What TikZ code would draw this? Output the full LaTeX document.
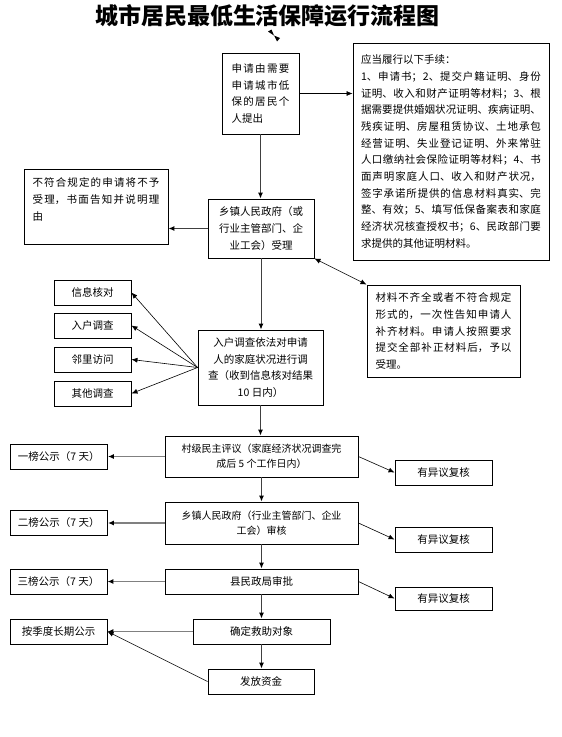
\documentclass[tikz,border=0pt]{standalone}
\usepackage{fontspec}
\setmainfont{Noto Sans CJK SC}
\usetikzlibrary{arrows.meta}
\XeTeXlinebreaklocale "zh"
\XeTeXlinebreakskip = 0pt plus 1.5pt
\setlength\parindent{0pt}
\tikzset{mytip/.tip={Latex[length=6pt,width=5pt,color=black]}}
\begin{document}
\begin{tikzpicture}[x=1pt,y=-1pt,
  every node/.style={font=\fontsize{10.5}{16.7}\selectfont},
  box/.style={draw,line width=0.9pt,inner sep=0pt,align=center},
  jbox/.style={box,align=justify},
  arr/.style={-{mytip},line width=1pt,draw=black!75},
  garr/.style={-{mytip},line width=1.5pt,draw=black!50},
  tarr/.style={-{mytip},line width=0.6pt,draw=black},
]
\useasboundingbox (0,0) rectangle (562,737);

\node[font=\fontsize{23}{23}\selectfont\bfseries] (title) at (271.5,16) {\makebox[353pt][s]{城市居民最低生活保障运行流程图}};
\fill (268,31.5) -- (271.5,29.5) -- (274,35.5) -- cycle;
\fill (274,35.5) -- (280,38) -- (277,41.5) -- cycle;

\node[jbox, minimum width=77, minimum height=81, text width=58] (b1) at (260.5,93.5)
 {申请由需要\linebreak 申请城市低\linebreak 保的居民个\linebreak 人提出};
\node[jbox, minimum width=196, minimum height=217, text width=180] (req) at (451,151.5)
 {应当履行以下手续：\newline
 1、申请书；2、提交户籍证明、身份\linebreak
 证明、收入和财产证明等材料；3、根\linebreak
 据需要提供婚姻状况证明、疾病证明、\linebreak
 残疾证明、房屋租赁协议、土地承包\linebreak
 经营证明、失业登记证明、外来常驻\linebreak
 人口缴纳社会保险证明等材料；4、书\linebreak
 面声明家庭人口、收入和财产状况，\linebreak
 签字承诺所提供的信息材料真实、完\linebreak
 整、有效；5、填写低保备案表和家庭\linebreak
 经济状况核查授权书；6、民政部门要\linebreak
 求提供的其他证明材料。};
\node[box, minimum width=106, minimum height=59] (b2) at (261,228.5)
 {乡镇人民政府（或\\行业主管部门、企\\业工会）受理};
\node[box, minimum width=144, minimum height=75] (rej) at (96,206.5)
 {\parbox[c][57pt][t]{127pt}{不符合规定的申请将不予\linebreak 受理，书面告知并说明理\linebreak 由}};
\node[jbox, minimum width=153, minimum height=92, text width=136] (mat) at (443.5,331)
 {材料不齐全或者不符合规定\linebreak 形式的，一次性告知申请人\linebreak 补齐材料。申请人按照要求\linebreak 提交全部补正材料后，予以\linebreak 受理。};
\node[box, minimum width=125, minimum height=75] (b4) at (260.5,367.5)
 {入户调查依法对申请\\人的家庭状况进行调\\查（收到信息核对结果\\10 日内）};
\node[box, minimum width=77, minimum height=25] (s1) at (92.5,292.5) {信息核对};
\node[box, minimum width=77, minimum height=25] (s2) at (92.5,325.5) {入户调查};
\node[box, minimum width=77, minimum height=25] (s3) at (92.5,359.5) {邻里访问};
\node[box, minimum width=77, minimum height=25] (s4) at (92.5,393.5) {其他调查};

\node[box, minimum width=193, minimum height=41, font=\fontsize{10}{15}\selectfont] (v1) at (261.5,456.5)
 {村级民主评议（家庭经济状况调查完\\成后 5 个工作日内）};
\node[box, minimum width=97.5, minimum height=25] (p1) at (58.75,456.5) {一榜公示（7 天）};
\node[box, minimum width=97, minimum height=25] (o1) at (443.5,472.5) {有异议复核};
\node[box, minimum width=193, minimum height=42, font=\fontsize{10}{15}\selectfont] (v2) at (261.5,523)
 {乡镇人民政府（行业主管部门、企业\\工会）审核};
\node[box, minimum width=97.5, minimum height=25] (p2) at (58.75,522.5) {二榜公示（7 天）};
\node[box, minimum width=97, minimum height=25] (o2) at (443.5,539.5) {有异议复核};
\node[box, minimum width=193, minimum height=25] (v3) at (261.5,581.5) {县民政局审批};
\node[box, minimum width=97, minimum height=25] (p3) at (58.5,581.5) {三榜公示（7 天）};
\node[box, minimum width=97, minimum height=23] (o3) at (443.5,598.5) {有异议复核};
\node[box, minimum width=137, minimum height=25] (v4) at (261.5,631.5) {确定救助对象};
\node[box, minimum width=97, minimum height=25] (p4) at (58.5,631.5) {按季度长期公示};
\node[box, minimum width=106, minimum height=25] (v5) at (261,681.5) {发放资金};

\draw[tarr] (b1.east) -- (b1.east -| req.west);
\draw[arr] (b1.south) -- (b1.south |- b2.north);
\draw[arr] (b2.west) -- (b2.west -| rej.east);
\draw[tarr,{mytip}-{mytip}] (mat.north west) -- (b2.south east);
\draw[arr] (b2.south) -- (b2.south |- b4.north);
\draw[tarr] (b4.west) -- (s1.east);
\draw[tarr] (b4.west) -- (s2.east);
\draw[tarr] (b4.west) -- (s3.east);
\draw[tarr] (b4.west) -- (s4.east);
\draw[arr] (b4.south) -- (b4.south |- v1.north);
\draw[garr] (v1.west) -- (v1.west -| p1.east);
\draw[tarr] (v1.east) -- (o1.west);
\draw[arr] (v1.south) -- (v1.south |- v2.north);
\draw[garr] (v2.west) -- (v2.west -| p2.east);
\draw[tarr] (v2.east) -- (o2.west);
\draw[arr] (v2.south) -- (v2.south |- v3.north);
\draw[garr] (v3.west) -- (v3.west -| p3.east);
\draw[tarr] (v3.east) -- (o3.west);
\draw[arr] (v3.south) -- (v3.south |- v4.north);
\draw[garr] (v4.west) -- (v4.west -| p4.east);
\draw[arr] (v4.south) -- (v4.south |- v5.north);
\draw[tarr] (v5.west) -- (p4.east);
\end{tikzpicture}
\end{document}
